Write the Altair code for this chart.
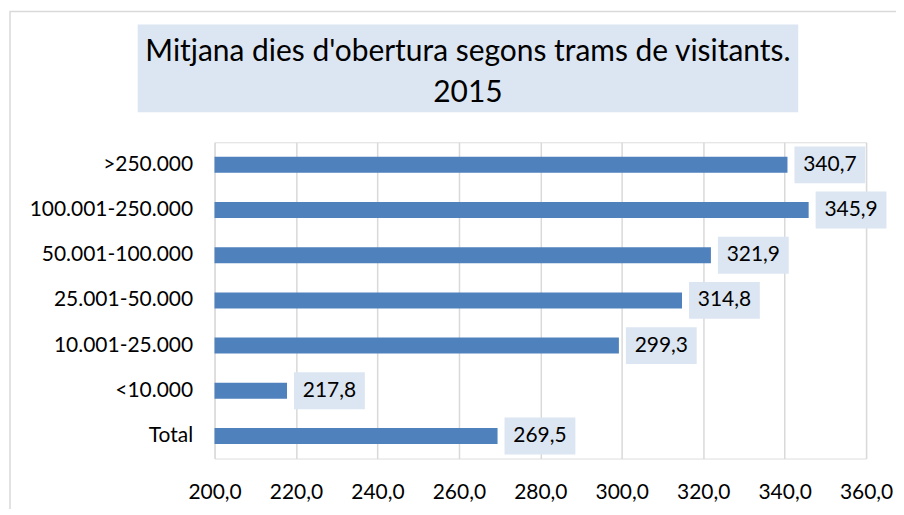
import altair as alt
import pandas as pd

categories = [">250.000", "100.001-250.000", "50.001-100.000", "25.001-50.000",
              "10.001-25.000", "<10.000", "Total"]
values = [340.7, 345.9, 321.9, 314.8, 299.3, 217.8, 269.5]
title_lines = ["Mitjana dies d'obertura segons trams de visitants.", "2015"]
x_ticks = [200, 220, 240, 260, 280, 300, 320, 340, 360]
x_min, x_max = 200, 360

FONT = "Lato"
BAR = "#4F81BD"
BOX = "#DCE6F2"
GRID = "#D9D9D9"

df = pd.DataFrame({"cat": categories, "val": values})
df["lab"] = [f"{v:.1f}".replace(".", ",") for v in values]
df["base"] = x_min

W, H = 653, 317

xscale = alt.Scale(domain=[x_min, x_max], nice=False, zero=False)
yenc = alt.Y("cat:N", sort=categories, title=None,
             axis=alt.Axis(domain=False, ticks=False, labelPadding=22,
                           labelFont=FONT, labelFontSize=21, labelColor="#000000",
                           grid=False))
xenc = alt.X("val:Q", scale=xscale, title=None,
             axis=alt.Axis(values=x_ticks, domain=False, ticks=False,
                           grid=True, gridColor=GRID, gridWidth=1.5,
                           labelFont=FONT, labelFontSize=21, labelColor="#000000",
                           labelPadding=23, labelFlush=False, labelOverlap=False,
                           labelExpr="replace(format(datum.value, '.1f'), '.', ',')"))

base = alt.Chart(df)

border = alt.Chart(pd.DataFrame({"a": [0]})).mark_rect(
    filled=False, stroke=GRID, strokeWidth=1.5
).encode(x=alt.value(-205), x2=alt.value(720), y=alt.value(-131), y2=alt.value(400))

title_box = alt.Chart(pd.DataFrame({"a": [0]})).mark_rect(fill=BOX).encode(
    x=alt.value(-77), x2=alt.value(585), y=alt.value(-118), y2=alt.value(-30))

title_df = pd.DataFrame({"t": title_lines})
title1 = alt.Chart(title_df.iloc[[0]]).mark_text(
    font=FONT, fontSize=30, color="#000000", align="center", baseline="middle"
).encode(text="t:N", x=alt.value(254), y=alt.value(-90))
title2 = alt.Chart(title_df.iloc[[1]]).mark_text(
    font=FONT, fontSize=30, color="#000000", align="center", baseline="middle"
).encode(text="t:N", x=alt.value(254), y=alt.value(-49))

bars = base.mark_bar(color=BAR, size=16).encode(
    y=yenc, x=xenc, x2="base:Q")

boxes = base.mark_bar(color=BOX, size=37, xOffset=7, x2Offset=78).encode(
    y=alt.Y("cat:N", sort=categories), x=alt.X("val:Q", scale=xscale), x2="val:Q")

labels = base.mark_text(font=FONT, fontSize=21, color="#000000", align="center",
                        baseline="middle", dx=42.5).encode(
    y=alt.Y("cat:N", sort=categories), x=alt.X("val:Q", scale=xscale), text="lab:N")

chart = alt.layer(border, title_box, title1, title2, bars, boxes, labels).properties(
    width=W, height=H, autosize="none",
    padding={"left": 207, "top": 134, "right": 30, "bottom": 50}
).configure_view(stroke=None).configure(background="white")

chart.save("out.html", embed_options={"renderer": "svg", "actions": False})
